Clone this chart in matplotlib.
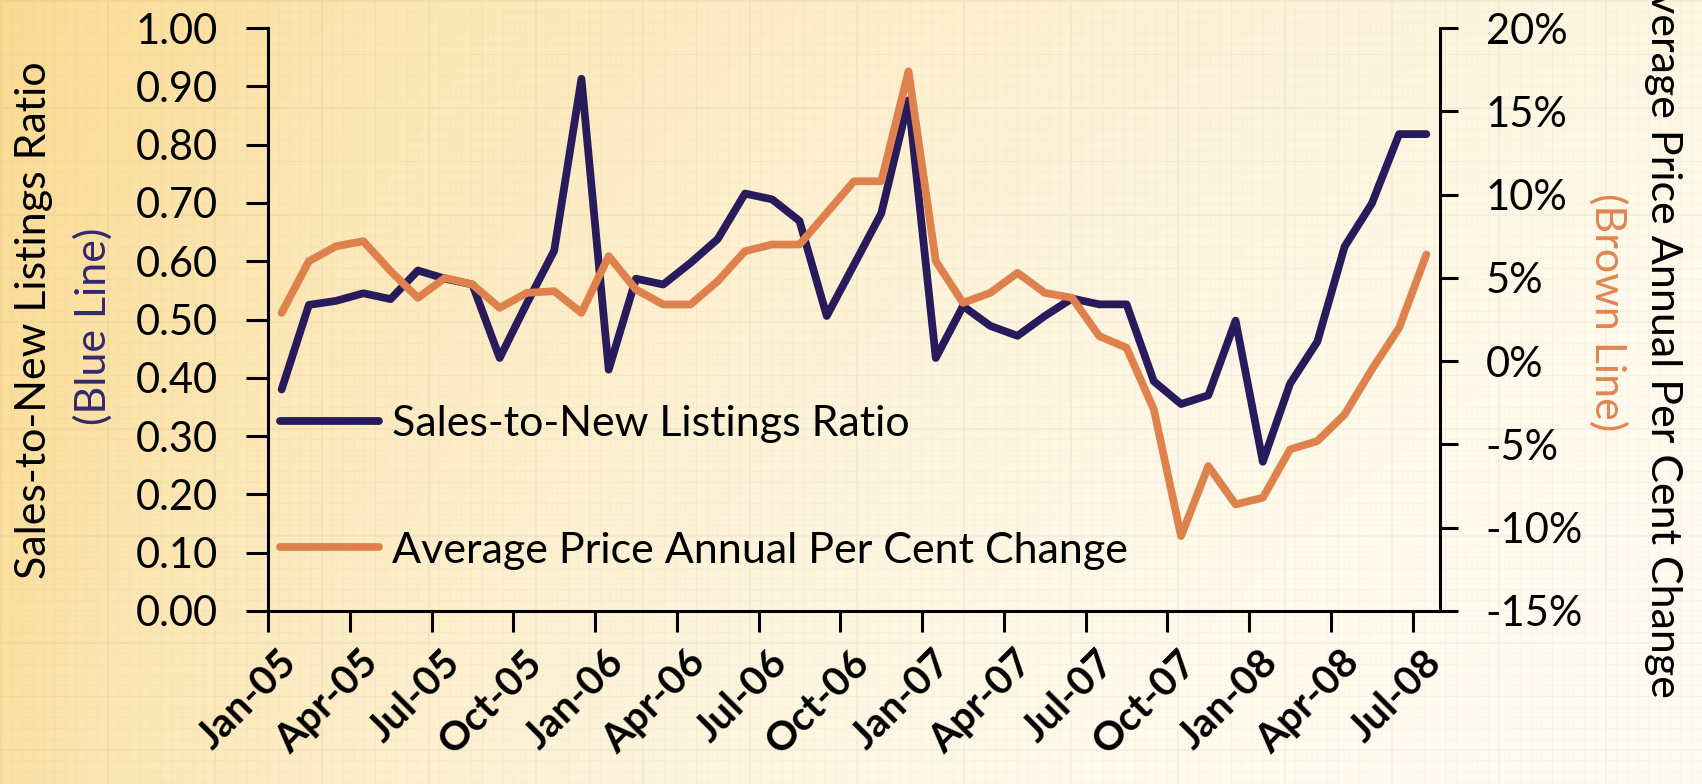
import numpy as np
import matplotlib
matplotlib.use("Agg")
import matplotlib.pyplot as plt
import matplotlib.transforms as mtransforms
from matplotlib.ticker import FuncFormatter

# ---------------- data ----------------
sales_ratio = [0.38, 0.525, 0.532, 0.545, 0.535, 0.584, 0.570, 0.560, 0.434, 0.528,
               0.618, 0.913, 0.414, 0.570, 0.560, 0.597, 0.638, 0.716, 0.706, 0.669,
               0.506, 0.594, 0.682, 0.876, 0.434, 0.523, 0.489, 0.472, 0.506, 0.536,
               0.526, 0.526, 0.394, 0.355, 0.370, 0.498, 0.256, 0.390, 0.462, 0.625,
               0.699, 0.818, 0.818]
price_change = [2.9, 6.0, 6.9, 7.2, 5.4, 3.8, 5.0, 4.6, 3.2, 4.1,
                4.2, 2.9, 6.3, 4.3, 3.4, 3.4, 4.8, 6.6, 7.0, 7.0,
                8.9, 10.8, 10.8, 17.4, 6.0, 3.5, 4.1, 5.3, 4.1, 3.8,
                1.5, 0.8, -2.9, -10.5, -6.3, -8.6, -8.2, -5.3, -4.8, -3.2,
                -0.5, 2.0, 6.4]
tick_labels = ['Jan-05', 'Apr-05', 'Jul-05', 'Oct-05', 'Jan-06', 'Apr-06', 'Jul-06',
               'Oct-06', 'Jan-07', 'Apr-07', 'Jul-07', 'Oct-07', 'Jan-08', 'Apr-08',
               'Jul-08']
left_ticks = [0.0, 0.1, 0.2, 0.3, 0.4, 0.5, 0.6, 0.7, 0.8, 0.9, 1.0]
right_ticks = [-15, -10, -5, 0, 5, 10, 15, 20]
series_names = ['Sales-to-New Listings Ratio', 'Average Price Annual Per Cent Change']

BLUE = '#281B5C'
ORANGE = '#DE814D'
FONT = ['Lato', 'DejaVu Sans']
plt.rcParams['font.family'] = FONT
FS = 31

W, H = 1702, 784
fig = plt.figure(figsize=(W / 100, H / 100), dpi=100)

# ---------------- background (gradient + graph-paper texture) ----------------
yy, xx = np.mgrid[0:H, 0:W]
u = xx / W
v = yy / H
f = 0.95 * np.exp(-1.6 * u - 1.5 * u * v - 0.2 * v)
lo = np.array([255, 253, 246]) / 255.0
hi = np.array([250, 217, 140]) / 255.0
img = lo + (hi - lo) * f[..., None]
step = 10.7
shade = np.ones((H, W))
minor = (np.mod(xx, step) < 1.0) | (np.mod(yy, step) < 1.0)
major = (np.mod(xx, step * 5) < 1.5) | (np.mod(yy, step * 5) < 1.5)
shade[minor] = 0.978
shade[major] = 0.965
img = img * shade[..., None]
bg = fig.add_axes([0, 0, 1, 1], zorder=-10)
bg.imshow(img, aspect='auto', interpolation='nearest')
bg.axis('off')

# ---------------- main axes ----------------
L, R, B, T = 268 / W, 1440 / W, (H - 611) / H, (H - 28) / H
ax = fig.add_axes([L, B, R - L, T - B])
ax.patch.set_alpha(0)
n = len(sales_ratio)
x = np.arange(n)

l1, = ax.plot(x, sales_ratio, color=BLUE, lw=5.6, solid_capstyle='round',
              solid_joinstyle='round', label=series_names[0])
ax.set_xlim(-0.5, n - 0.5)
ax.set_ylim(0, 1)

ax2 = ax.twinx()
l2, = ax2.plot(x, price_change, color=ORANGE, lw=5.6, solid_capstyle='round',
               solid_joinstyle='round', label=series_names[1])
ax2.set_ylim(-15, 20)

for s in ['top', 'right']:
    ax.spines[s].set_visible(False)
for s in ['top', 'left', 'bottom']:
    ax2.spines[s].set_visible(False)
for s in ['left', 'bottom']:
    ax.spines[s].set_linewidth(2.2)
ax2.spines['right'].set_linewidth(2.2)

ax.set_yticks(left_ticks)
ax.yaxis.set_major_formatter(FuncFormatter(lambda val, p: f'{val:.2f}'))
ax.tick_params(axis='y', direction='out', length=16, width=2.2, pad=20, labelsize=30)

ax2.set_yticks(right_ticks)
ax2.yaxis.set_major_formatter(FuncFormatter(lambda val, p: f'{val:.0f}%'))
ax2.tick_params(axis='y', direction='out', length=13, width=2.2, pad=20, labelsize=30)

label_pos = np.arange(0, n, 3)
ax.set_xticks(label_pos)
ax.set_xticklabels(tick_labels, rotation=45, ha='right', va='center',
                   rotation_mode='anchor', fontweight='bold', fontsize=29)
ax.set_xticks(np.arange(-0.5, n - 1, 3), minor=True)
ax.tick_params(axis='x', which='major', length=0, pad=33)
ax.tick_params(axis='x', which='minor', direction='out', length=15, width=2.2)
shift = mtransforms.ScaledTranslation(9 / 100, 0, fig.dpi_scale_trans)
for lab in ax.get_xticklabels():
    lab.set_transform(lab.get_transform() + shift)

# ---------------- axis titles ----------------
fig.text(34 / W, 1 - 320 / H, 'Sales-to-New Listings Ratio', rotation=90,
         ha='center', va='center', fontsize=FS)
fig.text(93 / W, 1 - 326 / H, '(Blue Line)', rotation=90, ha='center', va='center',
         fontsize=FS, color='#33286E')
fig.text(1663 / W, 1 - 698 / H, 'Average Price Annual Per Cent Change', rotation=270,
         ha='center', va='bottom', fontsize=FS)
fig.text(1608 / W, 1 - 312 / H, '(Brown Line)', rotation=270, ha='center',
         va='center', fontsize=FS, color='#E08552')

# ---------------- legend ----------------
ax2.legend(handles=[l1, l2], loc='center left', bbox_to_anchor=(0.0102, 0.212),
           frameon=False, fontsize=FS, handlelength=2.3, handletextpad=0.3,
           labelspacing=2.05, borderpad=0, borderaxespad=0)

fig.savefig('out.png', dpi=100)
